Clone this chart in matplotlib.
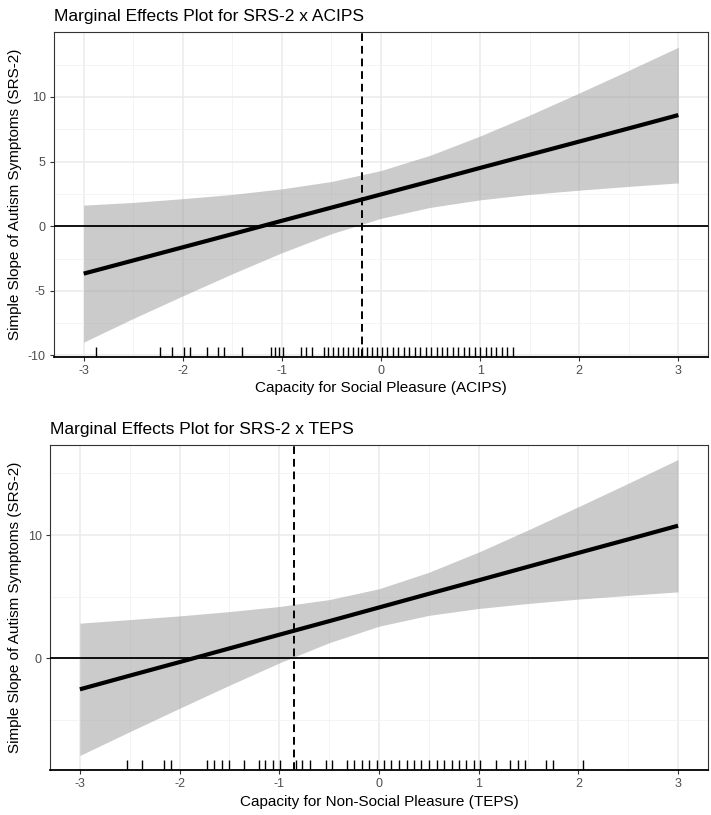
import numpy as np
import matplotlib
matplotlib.use('Agg')
import matplotlib.pyplot as plt
from matplotlib.ticker import MultipleLocator

plt.rcParams['font.family'] = ['Liberation Sans', 'DejaVu Sans']
plt.rcParams['axes.unicode_minus'] = False

x_grid = [-3, -2.5, -2, -1.5, -1, -0.5, 0, 0.5, 1, 1.5, 2, 2.5, 3]

# top panel: SRS-2 x ACIPS
acips_slope = [-3.67, -2.65, -1.63, -0.61, 0.42, 1.44, 2.46, 3.48, 4.51, 5.53, 6.55, 7.57, 8.60]
acips_upper = [1.63, 1.84, 2.13, 2.46, 2.89, 3.46, 4.31, 5.50, 6.98, 8.60, 10.31, 12.06, 13.85]
acips_lower = [-8.97, -7.14, -5.39, -3.68, -2.05, -0.58, 0.61, 1.46, 2.04, 2.46, 2.79, 3.08, 3.35]
acips_jn = -0.19
acips_rug = [-2.88, -2.23, -2.11, -1.99, -1.93, -1.76, -1.64, -1.58, -1.40, -1.11, -1.07,
             -1.03, -0.99, -0.81, -0.76, -0.70, -0.58, -0.53, -0.48, -0.43, -0.38, -0.33,
             -0.28, -0.23, -0.19, -0.14, -0.09, -0.04, 0.01, 0.065, 0.12, 0.175, 0.23,
             0.285, 0.34, 0.395, 0.45, 0.505, 0.56, 0.615, 0.67, 0.725, 0.78, 0.835,
             0.89, 0.945, 1.0, 1.055, 1.11, 1.165, 1.22, 1.275, 1.33]

# bottom panel: SRS-2 x TEPS
teps_slope = [-2.52, -1.41, -0.31, 0.80, 1.91, 3.01, 4.12, 5.23, 6.33, 7.44, 8.55, 9.65, 10.76]
teps_upper = [2.85, 3.14, 3.44, 3.79, 4.20, 4.76, 5.64, 6.98, 8.62, 10.43, 12.30, 14.20, 16.13]
teps_lower = [-7.89, -5.96, -4.06, -2.19, -0.38, 1.26, 2.60, 3.48, 4.04, 4.45, 4.80, 5.10, 5.39]
teps_jn = -0.85
teps_rug = [-2.53, -2.38, -2.16, -2.09, -1.72, -1.65, -1.57, -1.50, -1.35, -1.20, -1.14,
            -1.06, -0.99, -0.83, -0.77, -0.69, -0.53, -0.47, -0.32, -0.25, -0.17, -0.10,
            -0.02, 0.05, 0.12, 0.20, 0.28, 0.35, 0.42, 0.50, 0.58, 0.65, 0.73, 0.80,
            0.87, 0.95, 1.01, 1.17, 1.31, 1.39, 1.46, 1.68, 1.75, 2.05]

ylab = 'Simple Slope of Autism Symptoms (SRS-2)'


def draw_panel(ax, slope, upper, lower, jn, rug, ylim, yticks, title, xlabel):
    ax.set_xlim(-3.3, 3.3)
    ax.set_ylim(*ylim)
    ax.set_xticks([-3, -2, -1, 0, 1, 2, 3])
    ax.xaxis.set_minor_locator(MultipleLocator(0.5))
    ax.set_yticks(yticks)
    ax.yaxis.set_minor_locator(MultipleLocator((yticks[1] - yticks[0]) / 2))
    ax.grid(which='major', color='#EBEBEB', linewidth=1.1)
    ax.grid(which='minor', color='#F2F2F2', linewidth=0.6)
    ax.set_axisbelow(True)

    ax.fill_between(x_grid, lower, upper, color='#999999', alpha=0.5, linewidth=0, zorder=2)
    ax.axhline(0, color='black', linewidth=1.3, zorder=3)
    ax.plot(x_grid, slope, color='black', linewidth=3, solid_capstyle='butt', zorder=4)
    ax.axvline(jn, color='black', linewidth=1.4, linestyle=(0, (4, 2.5)), zorder=5)

    # rug of observed moderator values
    ax.vlines(rug, 0, 0.03, transform=ax.get_xaxis_transform(), color='black',
              linewidth=1.0, zorder=5)

    for side in ['top', 'right', 'left']:
        ax.spines[side].set_color('#333333')
        ax.spines[side].set_linewidth(0.8)
    ax.spines['bottom'].set_color('black')
    ax.spines['bottom'].set_linewidth(1.3)
    ax.tick_params(which='major', length=3, width=0.8, color='#333333',
                   labelsize=9, labelcolor='#4D4D4D', pad=3)
    ax.tick_params(which='minor', length=0)

    ax.set_title(title, loc='left', fontsize=12.5, pad=8)
    ax.set_xlabel(xlabel, fontsize=11, labelpad=3)
    ax.set_ylabel(ylab, fontsize=11, labelpad=4)


fig = plt.figure(figsize=(7.11, 8.15), dpi=100)

ax1 = fig.add_axes([0.0759, 0.5623, 0.9200, 0.3980])
draw_panel(ax1, acips_slope, acips_upper, acips_lower, acips_jn, acips_rug,
           (-10.1, 15.0), [-10, -5, 0, 5, 10],
           'Marginal Effects Plot for SRS-2 x ACIPS',
           'Capacity for Social Pleasure (ACIPS)')

ax2 = fig.add_axes([0.0703, 0.0552, 0.9254, 0.3988])
draw_panel(ax2, teps_slope, teps_upper, teps_lower, teps_jn, teps_rug,
           (-9.07, 17.31), [0, 10],
           'Marginal Effects Plot for SRS-2 x TEPS',
           'Capacity for Non-Social Pleasure (TEPS)')

plt.savefig('out.png', dpi=100)
